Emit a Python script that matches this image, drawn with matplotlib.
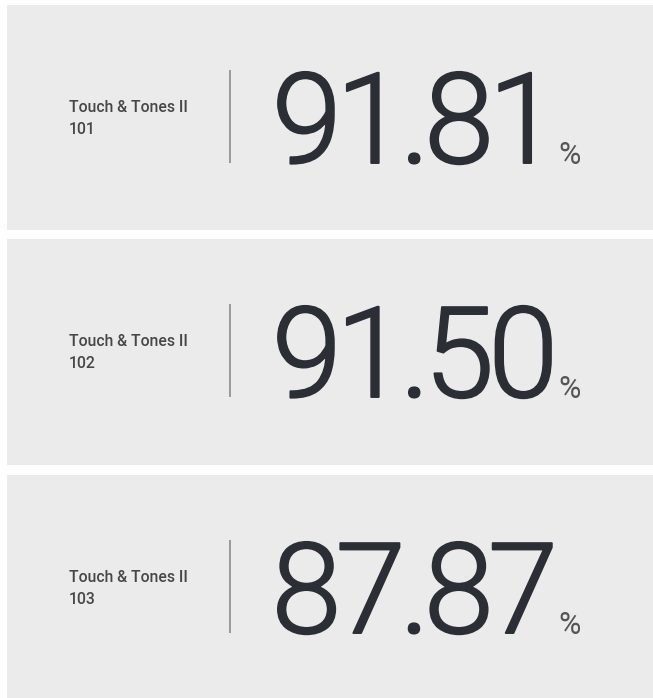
import matplotlib
matplotlib.use('Agg')
import matplotlib.pyplot as plt
from matplotlib import font_manager, patheffects
from matplotlib.ft2font import FT2Font
from matplotlib.patches import Rectangle

# Course scores shown as three stacked cards
course_name = "Touch & Tones II"
course_codes = ["101", "102", "103"]
scores = [91.81, 91.50, 87.87]

# Card layout (pixels, top-down)
W, H, DPI = 653, 698, 100
panel_tops = [5, 239, 475]
panel_bottoms = [230, 465, 700]
panel_left = 6.5

NUM_SIZE = 91
TRACKING = -6  # px, tighter spacing between big digits
NUM_COLOR = '#2b2e35'

fig = plt.figure(figsize=(W / DPI, H / DPI), dpi=DPI)
fig.patch.set_facecolor('white')
ax = fig.add_axes([0, 0, 1, 1])
ax.set_xlim(0, W)
ax.set_ylim(H, 0)
ax.axis('off')

num_fp = font_manager.FontProperties(family='Roboto', weight=300, size=NUM_SIZE)
num_font = FT2Font(font_manager.findfont(num_fp))
num_font.set_size(NUM_SIZE, DPI)
# light face is a bit thin compared to the original, thicken it slightly
thicken = [patheffects.withStroke(linewidth=1.4, foreground=NUM_COLOR)]


def glyph_metrics(ch):
    g = num_font.load_char(ord(ch))
    return g.horiBearingX / 64, g.linearHoriAdvance / 65536


def draw_tracked(x_ink, y, s, tracking):
    # agg puts the pen origin at x, so step the origin by each advance
    pen = x_ink - glyph_metrics(s[0])[0]
    for ch in s:
        adv = glyph_metrics(ch)[1]
        ax.text(pen, y, ch, fontproperties=num_fp, color=NUM_COLOR,
                ha='left', va='baseline', path_effects=thicken)
        pen += adv + tracking
    return pen


for top, bottom, code, score in zip(panel_tops, panel_bottoms, course_codes, scores):
    ax.add_patch(Rectangle((panel_left, top), W - panel_left + 5, bottom - top,
                           facecolor='#ebebeb', edgecolor='none'))

    # label on the left
    ax.text(69, top + 107, course_name, fontsize=11.3, family='Roboto', weight=500,
            color='#474747', ha='left', va='baseline')
    ax.text(69, top + 129, code, fontsize=11.3, family='Roboto', weight=500,
            color='#474747', ha='left', va='baseline')

    # divider
    ax.plot([230, 230], [top + 65, top + 158], color='#8c8c8c', lw=1.2,
            solid_capstyle='butt')

    # big value and percent sign
    end = draw_tracked(278, top + 158, f"{score:.2f}", TRACKING)
    ax.text(end + 6, top + 159, '%', fontsize=22, family='Roboto', weight=400,
            color='#555555', ha='left', va='baseline')

fig.savefig('out.png', dpi=DPI, facecolor='white')
